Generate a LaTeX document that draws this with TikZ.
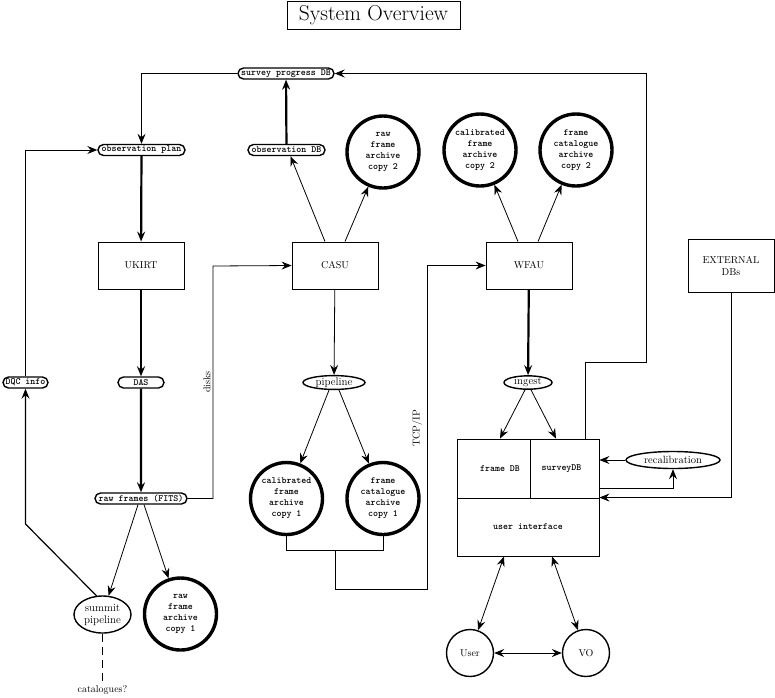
\documentclass[tikz,border=0pt]{standalone}
\usetikzlibrary{arrows.meta,shapes.geometric,shapes.misc,calc}
\begin{document}
\begin{tikzpicture}[x=1pt,y=-1pt,
  tip/.tip={Stealth[length=10pt,width=8pt,inset=3.5pt]},
  thinline/.style={line width=0.8pt,-tip},
  thickline/.style={line width=2.2pt,-tip},
  pill/.style={rounded rectangle,draw,line width=1.4pt,minimum height=11pt,inner sep=1pt,font=\fontsize{9.5}{10}\selectfont\ttfamily\bfseries},
  proc/.style={rectangle,draw,line width=0.9pt,minimum width=86pt,minimum height=47pt,font=\fontsize{10}{12}\selectfont,align=center},
  oval/.style={ellipse,draw,line width=1.4pt,inner sep=0pt,font=\fontsize{11}{12}\selectfont,align=center},
  archive/.style={circle,draw,line width=3.4pt,minimum size=72pt,inner sep=0pt,align=center,font=\fontsize{9.5}{11}\selectfont\ttfamily\bfseries},
  actor/.style={circle,draw,line width=1.4pt,minimum size=47pt,inner sep=0pt,font=\fontsize{10}{12}\selectfont},
  cell/.style={rectangle,draw,line width=0.9pt,inner sep=0pt,font=\fontsize{9.5}{11}\selectfont\ttfamily\bfseries},
  plain/.style={inner sep=0pt,font=\fontsize{10}{12}\selectfont}
]
\useasboundingbox (0,0) rectangle (775,697);

% title
\node[draw,line width=0.8pt,minimum width=173pt,minimum height=28pt,inner sep=0pt,font=\fontsize{21.5}{24}\selectfont] (title) at (373.5,15.5) {System Overview};

% pills
\node[pill,minimum width=98pt] (sprog) at (286,73.5) {survey progress DB};
\node[pill,minimum width=89pt] (obsplan) at (141.5,150) {observation plan};
\node[pill,minimum width=79pt] (obsdb) at (286.5,150) {observation DB};
\node[pill,minimum width=47pt] (dqc) at (25.5,382.5) {DQC info};
\node[pill,minimum width=48pt] (das) at (141,382.5) {DAS};
\node[pill,minimum width=94pt] (rawframes) at (141,498.5) {raw frames (FITS)};

% process boxes
\node[proc] (ukirt) at (141,265.5) {UKIRT};
\node[proc] (casu) at (335,265.5) {CASU};
\node[proc] (wfau) at (529,265.5) {WFAU};
\node[proc,minimum width=86pt,minimum height=53pt] (ext) at (731,265.5) {EXTERNAL\\DBs};

% archives
\node[archive] (rawc2) at (383,152) {raw\\frame\\archive\\copy 2};
\node[archive] (calc2) at (480,150) {calibrated\\frame\\archive\\copy 2};
\node[archive] (fcat2) at (576,150) {frame\\catalogue\\archive\\copy 2};
\node[archive] (calc1) at (286.5,498.5) {calibrated\\frame\\archive\\copy 1};
\node[archive] (fcat1) at (383,498.5) {frame\\catalogue\\archive\\copy 1};
\node[archive] (rawc1) at (180.5,614) {raw\\frame\\archive\\copy 1};

% ovals
\node[oval,minimum width=62pt,minimum height=13pt] (pipeline) at (334,382.5) {pipeline};
\node[oval,minimum width=48pt,minimum height=13pt] (ingest) at (528,382.5) {ingest};
\node[oval,minimum width=94pt,minimum height=17pt,font=\fontsize{10.5}{12}\selectfont] (recal) at (673,460) {recalibration};
\node[oval,minimum width=57pt,minimum height=37pt] (summit) at (102.5,614.5) {summit\\pipeline};

% database box
\node[cell,minimum width=73pt,minimum height=59pt] (framedb) at (493.5,468.5) {\hspace{13pt}frame DB};
\node[cell,minimum width=69pt,minimum height=59pt] (surveydb) at (564.5,468.5) {\hspace{-6pt}surveyDB};
\node[cell,minimum width=142pt,minimum height=58pt] (ui) at (528,527) {user interface\\[4pt]};

% actors
\node[actor] (user) at (470,653) {User};
\node[actor] (vo) at (586,653) {VO};

% labels
\node[plain] (catq) at (102.5,689.5) {catalogues?};
\node[plain,rotate=90] (disks) at (207,382) {disks};
\node[plain,rotate=90] (tcp) at (417,428.5) {TCP/IP};

% coordinates
\coordinate (dk) at (213,266);
\coordinate (j) at (335,550);
\coordinate (t1) at (427,589);
\coordinate (c1) at (646,362);
\coordinate (d1) at (25.5,524);

% thick flows
\draw[thickline] (obsdb) -- (sprog);
\draw[thickline] (obsplan) -- (ukirt);
\draw[thickline] (ukirt) -- (das);
\draw[thickline] (das) -- (rawframes);
\draw[thickline] (wfau) -- (ingest);

% thin flows
\draw[thinline] (sprog.west) -| (obsplan.north);
\draw[thinline] (dqc.north) |- (obsplan.west);
\draw[line width=1.2pt,-tip] ($(summit.north)+(-6,0.5)$) -- (d1) -- (dqc.south);
\draw[thinline] ($(rawframes.south)+(-3,0)$) -- (summit);
\draw[thinline] ($(rawframes.south)+(3,0)$) -- (rawc1);
\draw[thinline] (rawframes.east) -| (dk) -- (casu.west);
\draw[thinline] ($(casu.north)+(-10,0)$) -- ($(obsdb.south)+(4,0)$);
\draw[thinline] ($(casu.north)+(10,0)$) -- (rawc2);
\draw[thinline] (casu) -- (pipeline);
\draw[thinline] ($(pipeline.south)+(-5,0)$) -- (calc1);
\draw[thinline] ($(pipeline.south)+(5,0)$) -- (fcat1);
\draw[line width=0.8pt] (calc1.south) |- (j) -| (fcat1.south);
\draw[thinline] (j) |- (t1) |- (wfau.west);
\draw[thinline] ($(wfau.north)+(-11,0)$) -- (calc2);
\draw[thinline] ($(wfau.north)+(9,0)$) -- (fcat2);
\draw[thinline] ($(ingest.south)+(-3,0)$) -- ($(framedb.north)+(6.5,0)$);
\draw[thinline] ($(ingest.south)+(3,0)$) -- ($(surveydb.north)+(-8.5,0)$);
\draw[thinline] ($(surveydb.north)+(20.5,0)$) |- (c1) |- (sprog.east);
\draw[thinline] (recal.west) -- (recal.west -| surveydb.east);
\draw[thinline] ($(surveydb.south east)+(0,-10)$) -| (recal.south);
\draw[thinline] (ext.south) |- (ui.north east);
\draw[line width=0.8pt,tip-tip] ($(ui.south)+(-24,0)$) -- (user);
\draw[line width=0.8pt,tip-tip] ($(ui.south)+(24,0)$) -- (vo);
\draw[line width=0.8pt,tip-tip] (user) -- (vo);
\draw[line width=0.8pt,dash pattern=on 8pt off 5pt] (summit.south) -- (catq.north);
\end{tikzpicture}
\end{document}
